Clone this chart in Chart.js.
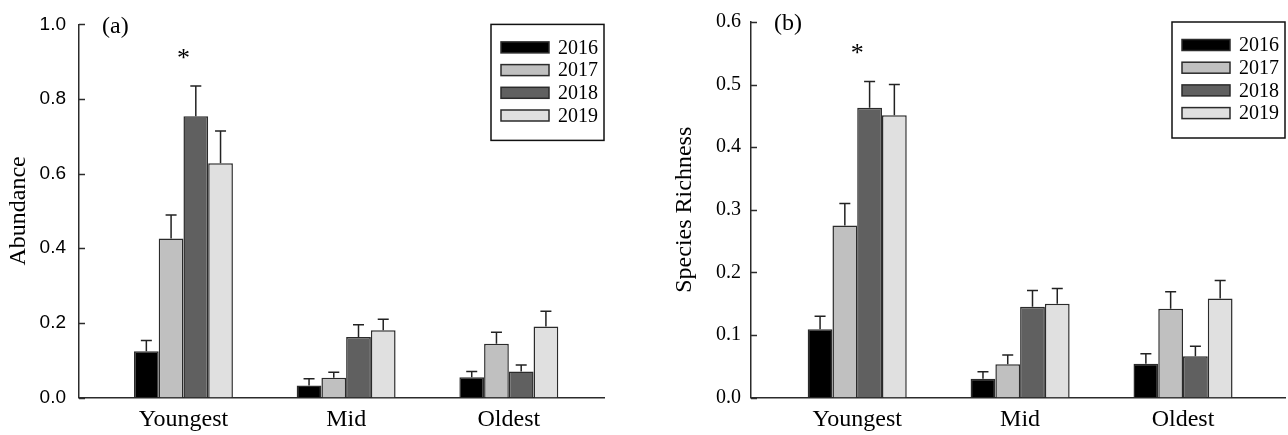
<!DOCTYPE html>
<html>
<head>
<meta charset="utf-8">
<script src="https://cdn.jsdelivr.net/npm/chart.js@4.4.1/dist/chart.umd.min.js"></script>
<style>
    html, body { margin: 0; padding: 0; background: #fff; }
    .row { display: flex; width: 1288px; height: 435px; }
    .panel { position: relative; width: 644px; height: 435px; }
</style>
</head>
<body>
<div class="row">
    <div class="panel"><canvas id="abundanceChart"></canvas></div>
    <div class="panel"><canvas id="richnessChart"></canvas></div>
</div>
<script>
const categories = ['Youngest', 'Mid', 'Oldest'];
const years = ['2016', '2017', '2018', '2019'];
const yearColors = ['#000000', '#c0c0c0', '#606060', '#e0e0e0'];

// (a) abundance: means and standard errors, one array per year
const abundance2016 = [0.124, 0.032, 0.054];
const abundance2017 = [0.426, 0.053, 0.144];
const abundance2018 = [0.754, 0.162, 0.070];
const abundance2019 = [0.628, 0.180, 0.190];
const abundanceErr2016 = [0.029, 0.018, 0.016];
const abundanceErr2017 = [0.063, 0.015, 0.031];
const abundanceErr2018 = [0.081, 0.033, 0.017];
const abundanceErr2019 = [0.086, 0.030, 0.041];
const abundanceTicks = [0.0, 0.2, 0.4, 0.6, 0.8, 1.0];

// (b) species richness
const richness2016 = [0.109, 0.030, 0.054];
const richness2017 = [0.275, 0.053, 0.142];
const richness2018 = [0.463, 0.145, 0.066];
const richness2019 = [0.451, 0.150, 0.158];
const richnessErr2016 = [0.021, 0.011, 0.016];
const richnessErr2017 = [0.035, 0.015, 0.027];
const richnessErr2018 = [0.042, 0.026, 0.016];
const richnessErr2019 = [0.049, 0.024, 0.029];
const richnessTicks = [0.0, 0.1, 0.2, 0.3, 0.4, 0.5, 0.6];

// groups marked with "*"
const significantGroups = ['Youngest'];

const AXIS = '#2b2b2b';
const SERIF = "'Liberation Serif', 'Times New Roman', serif";
const SANS = "'Liberation Sans', Arial, sans-serif";

// --- error bars, inward y ticks, panel letter, asterisks and boxed legend ---
const panelDecor = {
    id: 'panelDecor',
    afterDatasetsDraw(chart, args, opts) {
        const ctx = chart.ctx;
        const { left, top, right } = chart.chartArea;
        const xs = chart.scales.x;
        const ys = chart.scales.y;
        ctx.save();

        ctx.strokeStyle = AXIS;
        ctx.lineWidth = 1.5;
        ys.ticks.forEach(t => {
            const py = Math.round(ys.getPixelForValue(t.value)) + 0.5;
            ctx.beginPath();
            ctx.moveTo(left, py);
            ctx.lineTo(left + 6, py);
            ctx.stroke();
        });

        // upper error bars with caps
        ctx.strokeStyle = '#222';
        chart.data.datasets.forEach((ds, i) => {
            chart.getDatasetMeta(i).data.forEach((bar, j) => {
                const yTop = ys.getPixelForValue(ds.data[j].y + ds.errors[j]);
                ctx.beginPath();
                ctx.moveTo(bar.x, bar.y);
                ctx.lineTo(bar.x, yTop);
                ctx.moveTo(bar.x - 5.5, yTop);
                ctx.lineTo(bar.x + 5.5, yTop);
                ctx.stroke();
            });
        });

        // "*" above the tallest error bar of a group
        ctx.fillStyle = '#000';
        ctx.textAlign = 'center';
        ctx.textBaseline = 'middle';
        ctx.font = `26px ${SERIF}`;
        significantGroups.forEach(name => {
            const j = categories.indexOf(name);
            const peak = Math.max(...chart.data.datasets.map(ds => ds.data[j].y + ds.errors[j]));
            ctx.fillText('*', xs.getPixelForValue(j + 1), ys.getPixelForValue(peak) - 27);
        });

        // panel letter
        ctx.textAlign = 'left';
        ctx.font = `24px ${SERIF}`;
        ctx.fillText(opts.letter, left + 23, top + 2);

        // legend box in the top right corner
        const boxW = 113, boxH = 116;
        const bx = right - boxW, by = top;
        ctx.lineWidth = 1.5;
        ctx.strokeStyle = '#111';
        ctx.strokeRect(bx, by, boxW, boxH);
        ctx.font = `20px ${SERIF}`;
        chart.data.datasets.forEach((ds, i) => {
            const cy = by + 23 + i * 22.7;
            ctx.fillStyle = ds.backgroundColor;
            ctx.fillRect(bx + 10, cy - 5.5, 48, 11);
            ctx.strokeStyle = AXIS;
            ctx.strokeRect(bx + 10, cy - 5.5, 48, 11);
            ctx.fillStyle = '#000';
            ctx.fillText(ds.label, bx + 67, cy + 1);
        });

        ctx.restore();
    }
};

function buildDatasets(series, errors) {
    return years.map((yr, i) => ({
        label: yr,
        data: series[i].map((v, j) => ({ x: j + 1, y: v })),
        errors: errors[i],
        backgroundColor: yearColors[i],
        borderColor: AXIS,
        borderWidth: 1.5
    }));
}

function makeChart(canvasId, cfg) {
    return new Chart(document.getElementById(canvasId), {
        type: 'bar',
        data: { datasets: buildDatasets(cfg.series, cfg.errors) },
        options: {
            responsive: true,
            maintainAspectRatio: false,
            animation: false,
            events: [],
            categoryPercentage: 0.608,
            barPercentage: 1.0,
            layout: { padding: { top: 20, right: cfg.padRight, left: 0, bottom: 0 } },
            scales: {
                x: {
                    type: 'linear',
                    offset: false,
                    min: cfg.xMin,
                    max: cfg.xMax,
                    afterBuildTicks: s => { s.ticks = categories.map((c, i) => ({ value: i + 1 })); },
                    afterFit: s => { s.height = 37.5; },
                    ticks: {
                        callback: v => categories[v - 1],
                        autoSkip: false,
                        maxRotation: 0,
                        padding: 8,
                        color: '#000',
                        font: { family: SERIF, size: 24 }
                    },
                    grid: { display: false, drawTicks: false },
                    border: { color: AXIS, width: 1.5 }
                },
                y: {
                    min: 0,
                    max: cfg.yMax,
                    afterBuildTicks: s => { s.ticks = cfg.ticks.map(v => ({ value: v })); },
                    afterFit: s => { s.width = cfg.axisWidth; },
                    ticks: {
                        callback: v => v.toFixed(1),
                        padding: cfg.tickPad,
                        color: '#000',
                        font: cfg.tickFont
                    },
                    grid: { display: false, drawTicks: false },
                    border: { color: AXIS, width: 1.5 },
                    title: {
                        display: true,
                        text: cfg.title,
                        color: '#000',
                        font: { family: SERIF, size: 24 },
                        padding: { top: cfg.titlePad, bottom: 0 }
                    }
                }
            },
            plugins: {
                legend: { display: false },
                tooltip: { enabled: false },
                panelDecor: { letter: cfg.letter }
            }
        },
        plugins: [panelDecor]
    });
}

document.addEventListener('DOMContentLoaded', () => {
    makeChart('abundanceChart', {
        series: [abundance2016, abundance2017, abundance2018, abundance2019],
        errors: [abundanceErr2016, abundanceErr2017, abundanceErr2018, abundanceErr2019],
        ticks: abundanceTicks,
        yMax: 1.0,
        xMin: 0.358,
        xMax: 3.585,
        padRight: 40,
        axisWidth: 79,
        tickPad: 13,
        tickFont: { family: SANS, size: 19 },
        title: 'Abundance',
        titlePad: 4,
        letter: '(a)'
    });

    makeChart('richnessChart', {
        series: [richness2016, richness2017, richness2018, richness2019],
        errors: [richnessErr2016, richnessErr2017, richnessErr2018, richnessErr2019],
        ticks: richnessTicks,
        yMax: 0.6,
        xMin: 0.348,
        xMax: 3.626,
        padRight: 3,
        axisWidth: 107,
        tickPad: 10,
        tickFont: { family: SERIF, size: 20 },
        title: 'Species Richness',
        titlePad: 26,
        letter: '(b)'
    });
});
</script>
</body>
</html>
